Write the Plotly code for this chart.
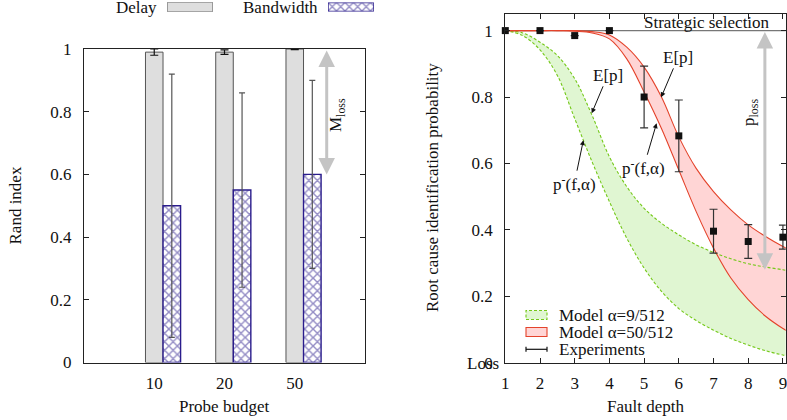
import plotly.graph_objects as go

W, H = 787, 420


def fx(p):
    return p / W


def fy(p):
    return 1 - p / H


FONT = "Liberation Serif, Times New Roman, serif"
FS = 17

# ---------------- left chart data ----------------
budgets = ["10", "20", "50"]
delay_mean = [0.99, 0.99, 1.0]
delay_err = [0.01, 0.007, 0.002]
bw_mean = [0.50, 0.55, 0.60]
bw_err = [0.42, 0.31, 0.30]
m_loss_top = 1.0
m_loss_bottom = 0.6

# ---------------- right chart data ----------------
depth_grid = [1, 1.5, 2, 2.5, 3, 3.5, 4, 4.5, 5, 5.5, 6, 6.5, 7, 7.5, 8, 8.5, 9, 9.1]
green_exp = [1.0, 0.993, 0.965, 0.925, 0.855, 0.745, 0.62, 0.53, 0.465, 0.42, 0.385,
             0.355, 0.332, 0.313, 0.298, 0.288, 0.28, 0.278]
green_low = [1.0, 0.985, 0.942, 0.865, 0.735, 0.605, 0.485, 0.375, 0.285, 0.215, 0.163,
             0.127, 0.098, 0.073, 0.053, 0.036, 0.023, 0.021]
red_exp = [1.0, 1.0, 1.0, 1.0, 1.0, 0.997, 0.987, 0.95, 0.89, 0.80, 0.68,
           0.585, 0.515, 0.46, 0.415, 0.38, 0.35, 0.345]
red_low = [1.0, 1.0, 1.0, 1.0, 0.998, 0.993, 0.975, 0.915, 0.815, 0.705, 0.58,
           0.455, 0.345, 0.255, 0.19, 0.14, 0.103, 0.097]
exp_depth = [1, 2, 3, 4, 5, 6, 7, 8, 9]
exp_mean = [1.0, 1.0, 0.985, 1.0, 0.80, 0.683, 0.396, 0.365, 0.378]
exp_err = [0, 0, 0, 0, 0.093, 0.108, 0.066, 0.051, 0.036]
p_loss_top = 1.0
p_loss_bottom = 0.28
strategic_level = 1.0

GRAY_FILL = "#dedede"
GRAY_LINE = "#555555"
BW_COL = "#2a1c8c"
GREEN_LINE = "#74c819"
GREEN_FILL = "#e0f6d2"
RED_LINE = "#e4432b"
RED_FILL = "#ffd5d5"

fig = go.Figure()

pos = [i + 1 for i in range(len(budgets))]
BW_SHIFT = 0.25
BAR_W = 0.25

BW_PATTERN = dict(shape="x", fgcolor=BW_COL, bgcolor="white", size=6, solidity=0.42)

fig.add_trace(go.Bar(
    x=pos, y=delay_mean, width=BAR_W, xaxis="x", yaxis="y",
    marker=dict(color=GRAY_FILL, line=dict(color=GRAY_LINE, width=1)),
    error_y=dict(type="data", array=delay_err, color="#111111", thickness=1.2, width=4),
    showlegend=False))
fig.add_trace(go.Bar(
    x=[p + BW_SHIFT for p in pos], y=bw_mean, width=BAR_W, xaxis="x", yaxis="y",
    marker=dict(color="white", line=dict(color=BW_COL, width=1.4), pattern=BW_PATTERN),
    error_y=dict(type="data", array=bw_err, color="#555555", thickness=1.2, width=3),
    showlegend=False))

# legend swatches (top legend of left chart) on small auxiliary axes
fig.add_trace(go.Bar(x=[0], y=[1], width=1, xaxis="x3", yaxis="y3",
                     marker=dict(color=GRAY_FILL, line=dict(color=GRAY_LINE, width=1)),
                     showlegend=False, hoverinfo="skip"))
fig.add_trace(go.Bar(x=[0], y=[1], width=1, xaxis="x4", yaxis="y4",
                     marker=dict(color="white", line=dict(color=BW_COL, width=1.4), pattern=BW_PATTERN),
                     showlegend=False, hoverinfo="skip"))

# ---- right chart bands ----
fig.add_trace(go.Scatter(x=depth_grid, y=green_low, mode="lines", xaxis="x2", yaxis="y2",
                         line=dict(width=0, shape="spline"), showlegend=False, hoverinfo="skip"))
fig.add_trace(go.Scatter(x=depth_grid, y=green_exp, mode="lines", xaxis="x2", yaxis="y2",
                         line=dict(width=0, shape="spline"), fill="tonexty", fillcolor=GREEN_FILL,
                         showlegend=False, hoverinfo="skip"))
fig.add_trace(go.Scatter(x=depth_grid, y=red_low, mode="lines", xaxis="x2", yaxis="y2",
                         line=dict(width=0, shape="spline"), showlegend=False, hoverinfo="skip"))
fig.add_trace(go.Scatter(x=depth_grid, y=red_exp, mode="lines", xaxis="x2", yaxis="y2",
                         line=dict(width=0, shape="spline"), fill="tonexty", fillcolor=RED_FILL,
                         showlegend=False, hoverinfo="skip"))
# strategic selection line
fig.add_trace(go.Scatter(x=[depth_grid[0], depth_grid[-1]], y=[strategic_level] * 2, mode="lines",
                         xaxis="x2", yaxis="y2", line=dict(color="#777777", width=1.3),
                         showlegend=False))
for ys, col, dash in [(green_low, GREEN_LINE, "dash"), (green_exp, GREEN_LINE, "dash"),
                      (red_low, RED_LINE, "solid"), (red_exp, RED_LINE, "solid")]:
    fig.add_trace(go.Scatter(x=depth_grid, y=ys, mode="lines", xaxis="x2", yaxis="y2",
                             line=dict(color=col, width=1.1, dash="3px,2px" if dash == "dash" else None,
                                       shape="spline"),
                             showlegend=False))
fig.add_trace(go.Scatter(x=exp_depth, y=exp_mean, mode="markers", xaxis="x2", yaxis="y2",
                         marker=dict(symbol="square", size=7, color="#111111"),
                         error_y=dict(type="data", array=exp_err, color="#333333", thickness=1.2, width=4),
                         showlegend=False, cliponaxis=False))

axis_common = dict(showline=True, linecolor="#222222", linewidth=1.3, showgrid=False, zeroline=False,
                   tickfont=dict(family=FONT, size=FS, color="#111111"), ticklen=5,
                   tickcolor="#222222", tickwidth=1, automargin=False, ticklabeloverflow="allow")

fig.update_layout(
    width=W, height=H, autosize=False,
    margin=dict(l=0, r=0, t=0, b=0, pad=0),
    paper_bgcolor="white", plot_bgcolor="white",
    barmode="overlay",
    font=dict(family=FONT, size=FS, color="#111111"),
    xaxis=dict(domain=[fx(84), fx(365)], range=[0, len(budgets) + 1], tickvals=pos, ticktext=budgets,
               ticks="", mirror=True, anchor="y", ticklabelstandoff=5, **axis_common),
    yaxis=dict(domain=[fy(362.5), fy(49)], range=[0, 1], tickvals=[0, 0.2, 0.4, 0.6, 0.8, 1],
               ticktext=["0", "0.2", "0.4", "0.6", "0.8", "1"],
               ticks="inside", mirror="ticks", anchor="x", ticklabelstandoff=8, **axis_common),
    xaxis2=dict(domain=[fx(505.3), fx(785.7)], range=[1, 9.08], tickvals=list(range(1, 10)),
                ticks="inside", mirror="ticks", anchor="y2", ticklabelstandoff=5, **axis_common),
    yaxis2=dict(domain=[fy(362.7), fy(14)], range=[0, 1.05], tickvals=[0, 0.2, 0.4, 0.6, 0.8, 1],
                ticktext=["0", "0.2", "0.4", "0.6", "0.8", "1"],
                ticks="inside", mirror="ticks", anchor="x2", ticklabelstandoff=8, **axis_common),
    xaxis3=dict(domain=[fx(167), fx(213)], range=[-0.5, 0.5], visible=False, anchor="y3", automargin=False),
    yaxis3=dict(domain=[fy(11.5), fy(2.5)], range=[0, 1], visible=False, anchor="x3", automargin=False),
    xaxis4=dict(domain=[fx(328), fx(374)], range=[-0.5, 0.5], visible=False, anchor="y4", automargin=False),
    yaxis4=dict(domain=[fy(11.5), fy(2.5)], range=[0, 1], visible=False, anchor="x4", automargin=False),
)


def text(t, x, y, angle=0, xanchor="center", size=FS):
    fig.add_annotation(text=t, x=fx(x), y=fy(y), xref="paper", yref="paper", showarrow=False,
                       textangle=angle, xanchor=xanchor, yanchor="middle",
                       font=dict(family=FONT, size=size, color="#111111"))


# top legend texts
text("Delay", 136, 7.5)
text("Bandwidth", 280, 7.5)
# axis titles
text("Rand index", 14.5, 206, angle=-90)
text("Probe budget", 224, 406)
text("Root cause identification probability", 433, 188, angle=-90)
text("Fault depth", 645, 406)
text("Loss", 501.5, 363, xanchor="right")
text("Strategic selection", 706.5, 22)
text("M<sub>loss</sub>", 337, 115, angle=-90)
text("p<sub>loss</sub>", 750, 113, angle=-90)

# M_loss / p_loss double arrows
fig.add_annotation(x=3.455, y=m_loss_bottom, ax=3.455, ay=m_loss_top, xref="x", yref="y", axref="x", ayref="y",
                   showarrow=True, arrowside="end+start", arrowhead=2, arrowsize=1.1, arrowwidth=3,
                   arrowcolor="#c4c4c4", text="")
fig.add_annotation(x=8.48, y=p_loss_bottom, ax=8.48, ay=p_loss_top, xref="x2", yref="y2", axref="x2", ayref="y2",
                   showarrow=True, arrowside="end+start", arrowhead=2, arrowsize=1.1, arrowwidth=3,
                   arrowcolor="#c4c4c4", text="")

# curve labels with arrows
for t, x, y, ax, ay in [("E[p]", 3.49, 0.751, 16, -38),
                        ("p<sup>-</sup>(f,α)", 3.25, 0.670, -9, 43),
                        ("E[p]", 5.49, 0.799, 17, -40),
                        ("p<sup>-</sup>(f,α)", 5.36, 0.721, -13, 44)]:
    fig.add_annotation(x=x, y=y, xref="x2", yref="y2", ax=ax, ay=ay, text=t, showarrow=True,
                       arrowhead=2, arrowsize=1, arrowwidth=1, arrowcolor="#111111",
                       font=dict(family=FONT, size=FS, color="#111111"), standoff=0)

# right legend (manual)
fig.add_shape(type="rect", xref="paper", yref="paper", x0=fx(526), x1=fx(547), y0=fy(319.5), y1=fy(310.5),
              fillcolor=GREEN_FILL, line=dict(color=GREEN_LINE, width=1.1, dash="3px,2px"))
fig.add_shape(type="rect", xref="paper", yref="paper", x0=fx(526), x1=fx(547), y0=fy(336.5), y1=fy(327.5),
              fillcolor=RED_FILL, line=dict(color=RED_LINE, width=1.1))
fig.add_shape(type="line", xref="paper", yref="paper", x0=fx(526), x1=fx(547), y0=fy(349.3), y1=fy(349.3),
              line=dict(color="#111111", width=1.2))
for xc in (526, 547):
    fig.add_shape(type="line", xref="paper", yref="paper", x0=fx(xc), x1=fx(xc), y0=fy(346.8), y1=fy(351.8),
                  line=dict(color="#111111", width=1.2))
text("Model α=9/512", 556.5, 315, xanchor="left")
text("Model α=50/512", 556.5, 332, xanchor="left")
text("Experiments", 556.5, 349, xanchor="left")

fig.write_html("out.html")
